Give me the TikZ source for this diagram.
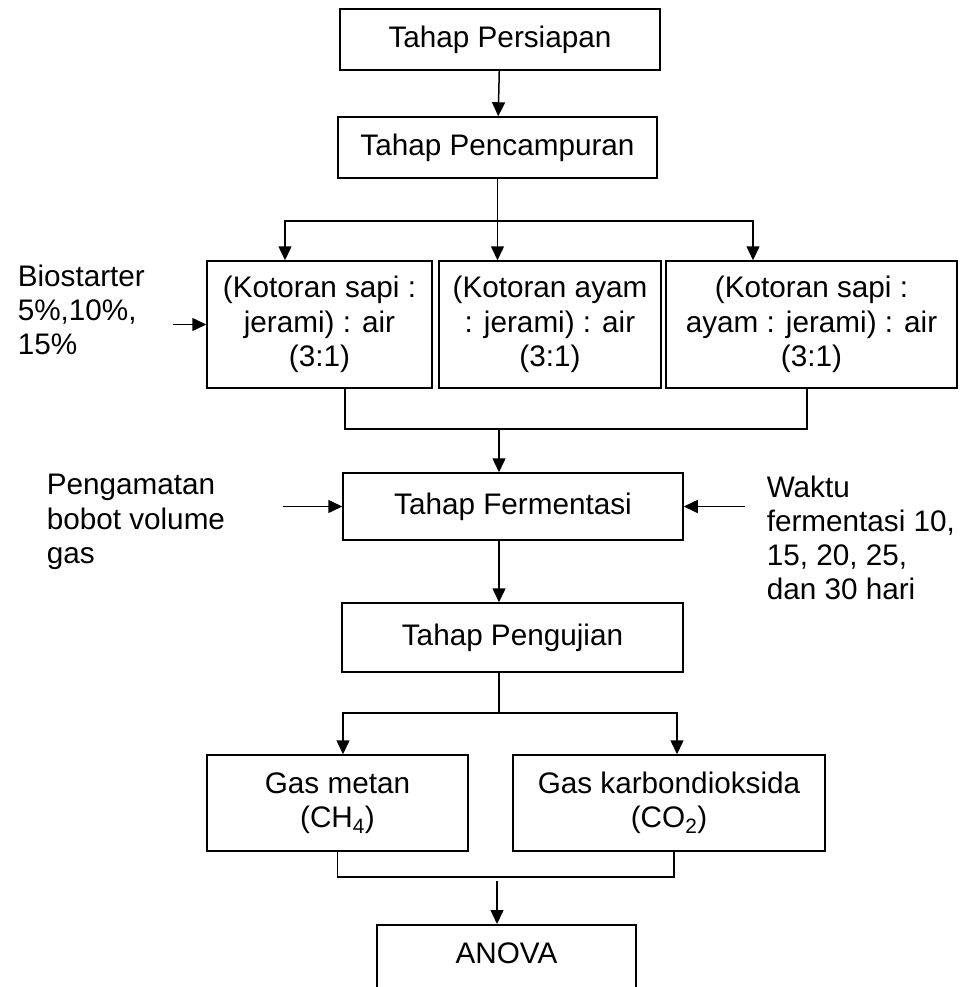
\documentclass[tikz,border=0pt]{standalone}
\usepackage{fontspec}
\setmainfont{Liberation Sans}
\usetikzlibrary{arrows.meta}

\begin{document}
\begin{tikzpicture}[
		x=1pt, y=-1pt,
		line width=1.5pt,
		every node/.style={font=\fontsize{29.7}{34.2}\selectfont, inner sep=2pt},
		box/.style={rectangle, draw, align=center},
		side/.style={anchor=west, align=left, inner sep=0pt},
		arr/.style={-{Triangle[length=14pt, width=13pt]}}
	]
  \clip (0,0) rectangle (960,987);

  \node (persiapan) [box, minimum width=320pt, minimum height=61pt] at (500,39.5) {Tahap Persiapan};
  \node (pencampuran) [box, minimum width=319pt, minimum height=61pt] at (497.5,147.5) {Tahap Pencampuran};
  \node (campur1) [box, minimum width=225pt, minimum height=127pt] at (319.5,324.5) {(Kotoran sapi :\\jerami) : air\\(3:1)};
  \node (campur2) [box, minimum width=222pt, minimum height=127pt] at (550,324.5) {(Kotoran ayam\\: jerami) : air\\(3:1)};
  \node (campur3) [box, minimum width=291pt, minimum height=127pt] at (811.5,324.5) {(Kotoran sapi :\\ayam : jerami) : air\\(3:1)};
  \node (fermentasi) [box, minimum width=340pt, minimum height=67pt] at (513,506.5) {Tahap Fermentasi};
  \node (pengujian) [box, minimum width=341pt, minimum height=69pt] at (512.5,637.5) {Tahap Pengujian};
  \node (metan) [box, minimum width=261pt, minimum height=96pt] at (337.5,803) {Gas metan\\(CH\textsubscript{4})};
  \node (karbon) [box, minimum width=312pt, minimum height=96pt] at (669,803) {Gas karbondioksida\\(CO\textsubscript{2})};
  \node (anova) [box, anchor=north, minimum width=259pt, inner ysep=18pt, text depth=60pt] at (506.5,924) {ANOVA};

  \node (biostarter) [side] at (17,310) {Biostarter\\5\%,10\%,\\15\%};
  \node (pengamatan) [side] at (46,522) {Pengamatan\\bobot volume\\gas};
  \node (waktu) [side] at (766,538) {Waktu\\fermentasi 10,\\15, 20, 25,\\dan 30 hari};

  \coordinate (split1) at (497.5,221);
  \coordinate (join1) at (499,429);
  \coordinate (split2) at (499,713);
  \coordinate (join2) at (497,877);
  \coordinate (bioin) at (173,324.5);
  \coordinate (amatin) at (283,506.5);
  \coordinate (waktuin) at (745,506.5);

  \draw [arr] (persiapan) -- (pencampuran);
  \draw (pencampuran.south) -- (split1);
  \draw [arr] (split1) -| ([xshift=-34.5pt]campur1.north);
  \draw [arr] (split1) -- ([xshift=-52.5pt]campur2.north);
  \draw [arr] (split1) -| ([xshift=-58.5pt]campur3.north);
  \draw [arr] (bioin) -- (campur1);

  \draw ([xshift=25.5pt]campur1.south) |- (join1) -| ([xshift=-4.5pt]campur3.south);
  \draw [arr] (join1) -- ([xshift=-14pt]fermentasi.north);
  \draw [arr] (amatin) -- (fermentasi);
  \draw [arr] (waktuin) -- (fermentasi);
  \draw [arr] ([xshift=-14pt]fermentasi.south) -- ([xshift=-13.5pt]pengujian.north);

  \draw ([xshift=-13.5pt]pengujian.south) -- (split2);
  \draw [arr] (split2) -| ([xshift=5.5pt]metan.north);
  \draw [arr] (split2) -| ([xshift=8pt]karbon.north);
  \draw (metan.south) |- (join2) -| ([xshift=5pt]karbon.south);
  \draw [arr] ([yshift=-4pt]join2) -- ([xshift=-9.5pt]anova.north);
\end{tikzpicture}
\end{document}
